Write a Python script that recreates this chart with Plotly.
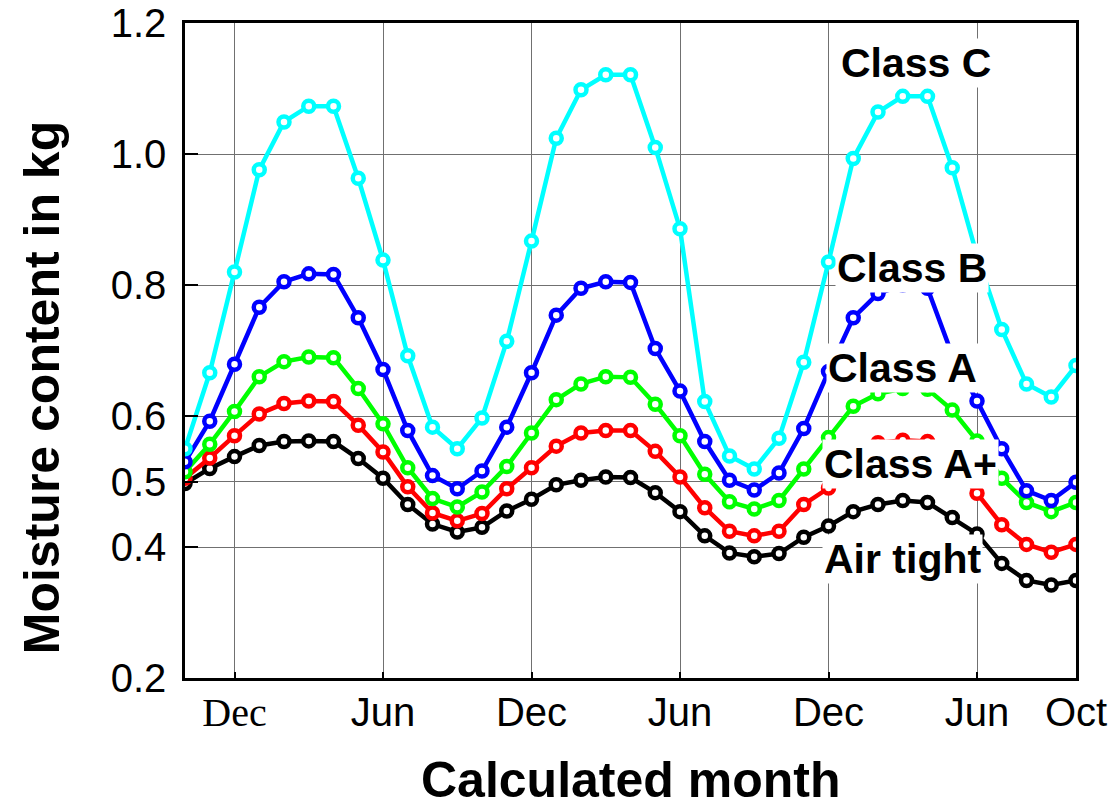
import plotly.graph_objects as go

months = list(range(37))

class_c = [0.550, 0.666, 0.820, 0.976, 1.049, 1.073, 1.073, 0.963, 0.838, 0.692, 0.583, 0.550,
           0.597, 0.714, 0.867, 1.024, 1.098, 1.121, 1.121, 1.010, 0.886, 0.622, 0.539, 0.519,
           0.566, 0.682, 0.835, 0.993, 1.064, 1.088, 1.088, 0.979, 0.845, 0.732, 0.649, 0.629, 0.677]
class_b = [0.530, 0.592, 0.679, 0.766, 0.805, 0.817, 0.816, 0.750, 0.671, 0.578, 0.509, 0.489,
           0.516, 0.583, 0.666, 0.754, 0.795, 0.805, 0.804, 0.703, 0.638, 0.561, 0.502, 0.487,
           0.513, 0.581, 0.668, 0.750, 0.787, 0.800, 0.795, 0.693, 0.623, 0.550, 0.486, 0.471, 0.499]
class_a = [0.515, 0.557, 0.607, 0.660, 0.683, 0.690, 0.689, 0.642, 0.588, 0.521, 0.474, 0.461,
           0.484, 0.523, 0.574, 0.625, 0.649, 0.660, 0.659, 0.618, 0.570, 0.511, 0.469, 0.458,
           0.471, 0.519, 0.567, 0.615, 0.634, 0.642, 0.641, 0.609, 0.562, 0.505, 0.468, 0.454, 0.468]
class_ap = [0.505, 0.536, 0.570, 0.603, 0.619, 0.623, 0.622, 0.586, 0.545, 0.492, 0.452, 0.440,
            0.451, 0.489, 0.521, 0.554, 0.574, 0.578, 0.578, 0.546, 0.507, 0.460, 0.424, 0.417,
            0.424, 0.465, 0.490, 0.527, 0.559, 0.563, 0.561, 0.527, 0.482, 0.434, 0.404, 0.392, 0.404]
air_tight = [0.497, 0.520, 0.538, 0.555, 0.561, 0.562, 0.561, 0.535, 0.505, 0.465, 0.435, 0.423,
             0.430, 0.455, 0.473, 0.495, 0.502, 0.507, 0.506, 0.483, 0.454, 0.417, 0.391, 0.385,
             0.390, 0.415, 0.432, 0.454, 0.465, 0.471, 0.468, 0.445, 0.420, 0.375, 0.349, 0.342, 0.349]

series = [
    ("Air tight", air_tight, "#000000"),
    ("Class A+", class_ap, "#ff0000"),
    ("Class A", class_a, "#00ff00"),
    ("Class B", class_b, "#0000ff"),
    ("Class C", class_c, "#00ffff"),
]

x_tickvals = [2, 8, 14, 20, 26, 32, 36]
x_ticktext = ['<span style="font-family:Liberation Serif">Dec</span>', "Jun", "Dec", "Jun", "Dec", "Jun", "Oct"]
y_tickvals = [0.2, 0.4, 0.5, 0.6, 0.8, 1.0, 1.2]
y_ticktext = ["0.2", "0.4", "0.5", "0.6", "0.8", "1.0", "1.2"]

# label placement (data coords): name, x, y
labels = [
    ("Class C", 29.55, 1.139),
    ("Class B", 29.37, 0.826),
    ("Class A", 29.0, 0.674),
    ("Class A+", 29.33, 0.527),
    ("Air tight", 28.97, 0.382),
]

fig = go.Figure()
for name, vals, col in series:
    fig.add_trace(go.Scatter(
        x=months, y=vals, mode="lines+markers", name=name,
        line=dict(color=col, width=4.5),
        marker=dict(symbol="circle", size=11, color="white", line=dict(color=col, width=4.5)),
        cliponaxis=True, showlegend=False,
    ))

for text, lx, ly in labels:
    fig.add_annotation(x=lx, y=ly, xref="x", yref="y", text="<b>" + text + "</b>",
                       showarrow=False, bgcolor="white", borderpad=1,
                       font=dict(family="Liberation Sans, Arial", size=41, color="black"))

fig.add_annotation(x=-0.1605, y=0.444, xref="paper", yref="paper", textangle=-90,
                   xanchor="center", yanchor="middle",
                   text="<b>Moisture content in kg</b>", showarrow=False,
                   font=dict(family="Liberation Sans, Arial", size=50, color="black"))
fig.add_annotation(x=0.5, y=-0.156, xref="paper", yref="paper",
                   xanchor="center", yanchor="middle",
                   text="<b>Calculated month</b>", showarrow=False,
                   font=dict(family="Liberation Sans, Arial", size=50, color="black"))

fig.update_xaxes(range=[0, 36], tickvals=x_tickvals, ticktext=x_ticktext,
                 showgrid=True, gridcolor="#707070", gridwidth=1,
                 showline=True, linecolor="black", linewidth=2.5, mirror=True,
                 ticks="inside", ticklen=6, tickwidth=2, tickcolor="black",
                 ticklabelstandoff=-3, automargin=False,
                 tickfont=dict(family="Liberation Sans, Arial", size=40, color="black"),
                 zeroline=False)
fig.update_yaxes(range=[0.2, 1.2], tickvals=y_tickvals, ticktext=y_ticktext,
                 showgrid=True, gridcolor="#707070", gridwidth=1,
                 showline=True, linecolor="black", linewidth=2.5, mirror=True,
                 ticks="inside", ticklen=13, tickwidth=2, tickcolor="black",
                 ticklabelstandoff=8, automargin=False,
                 tickfont=dict(family="Liberation Sans, Arial", size=40, color="black"),
                 zeroline=False)

fig.update_layout(width=1117, height=811, margin=dict(l=185, r=41, t=23, b=133, autoexpand=False),
                  plot_bgcolor="white", paper_bgcolor="white")

fig.write_html("out.html")
